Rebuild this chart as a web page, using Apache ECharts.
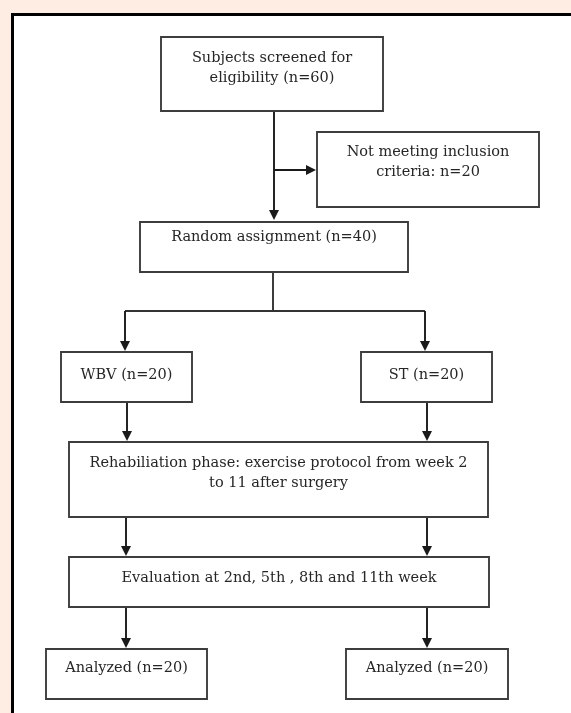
<!DOCTYPE html>
<html>
<head>
<meta charset="utf-8">
<script src="https://cdn.jsdelivr.net/npm/echarts@6/dist/echarts.min.js"></script>
<style>
  html, body { margin: 0; padding: 0; background: #fdede3; }
  #chart { width: 571px; height: 713px; }
</style>
</head>
<body>
<div id="chart"></div>
<script>
// ---- content (text of each box) ----
const boxLabels = [
  'Subjects screened for\neligibility (n=60)',
  'Not meeting inclusion\ncriteria: n=20',
  'Random assignment (n=40)',
  'WBV (n=20)',
  'ST (n=20)',
  'Rehabiliation phase: exercise protocol from week 2\nto 11 after surgery',
  'Evaluation at 2nd, 5th , 8th and 11th week',
  'Analyzed (n=20)',
  'Analyzed (n=20)'
];

// ---- layout (kept separate from content): [left, top, width, height] ----
const boxLayout = [
  [161, 37, 222, 74],
  [317, 132, 222, 75],
  [140, 222, 268, 50],
  [61, 352, 131, 50],
  [361, 352, 131, 50],
  [69, 442, 419, 75],
  [69, 557, 420, 50],
  [46, 649, 161, 50],
  [346, 649, 162, 50]
];
const textTopPad = [11, 10, 5, 13, 13, 11, 11, 9, 9];

// connectors: plain segments and arrow segments (tip points), in layout units
const plainSegments = [
  [[273, 272], [273, 311]],
  [[125, 311], [425, 311]]
];
const ARROW = 10;
const arrowSegments = [
  [[274, 111], [274, 220]],
  [[274, 170], [316, 170]],
  [[125, 311], [125, 351]],
  [[425, 311], [425, 351]],
  [[127, 402], [127, 441]],
  [[427, 402], [427, 441]],
  [[126, 517], [126, 556]],
  [[427, 517], [427, 556]],
  [[126, 607], [126, 648]],
  [[427, 607], [427, 648]]
];

function arrowData(seg) {
  const a = seg[0], b = seg[1];
  const dx = b[0] - a[0], dy = b[1] - a[1];
  const len = Math.sqrt(dx * dx + dy * dy);
  const k = (ARROW / 2) / len;
  return { coords: [a, [b[0] - dx * k, b[1] - dy * k]] };
}

const FONT_FAMILY = 'DejaVu Serif';
const FONT_SIZE = 14.5;

const chart = echarts.init(document.getElementById('chart'), null, { renderer: 'canvas' });
chart.setOption({
  backgroundColor: '#fdede3',
  animation: false,
  grid: { left: 0, right: 0, top: 0, bottom: 0 },
  xAxis: { type: 'value', min: 0, max: 571, show: false },
  yAxis: { type: 'value', min: 0, max: 713, inverse: true, show: false },
  graphic: [{
    type: 'rect',
    z: 0,
    silent: true,
    shape: { x: 12.5, y: 14.5, width: 700, height: 800 },
    style: { fill: '#ffffff', stroke: '#000000', lineWidth: 3 }
  }],
  series: [
    {
      type: 'lines',
      coordinateSystem: 'cartesian2d',
      z: 3,
      silent: true,
      symbol: ['none', 'none'],
      lineStyle: { color: '#333333', width: 1.9, opacity: 1, curveness: 0 },
      data: plainSegments.map(s => ({ coords: s }))
    },
    {
      type: 'lines',
      coordinateSystem: 'cartesian2d',
      z: 3,
      silent: true,
      symbol: ['none', 'triangle'],
      symbolSize: [9, ARROW],
      lineStyle: { color: '#1a1a1a', width: 1.9, opacity: 1, curveness: 0 },
      data: arrowSegments.map(arrowData)
    },
    {
      type: 'custom',
      coordinateSystem: 'cartesian2d',
      z: 4,
      silent: true,
      data: boxLabels.map((t, i) => [i]),
      renderItem: function (params, api) {
        const i = params.dataIndex;
        const b = boxLayout[i];
        const p0 = api.coord([b[0], b[1]]);
        const p1 = api.coord([b[0] + b[2], b[1] + b[3]]);
        const cx = (p0[0] + p1[0]) / 2;
        return {
          type: 'group',
          children: [
            {
              type: 'rect',
              shape: { x: p0[0], y: p0[1], width: p1[0] - p0[0], height: p1[1] - p0[1] },
              style: { fill: '#ffffff', stroke: '#3d3d3d', lineWidth: 1.9 }
            },
            {
              type: 'text',
              style: {
                text: boxLabels[i],
                x: cx,
                y: p0[1] + textTopPad[i],
                align: 'center',
                verticalAlign: 'top',
                fontFamily: FONT_FAMILY,
                fontSize: FONT_SIZE,
                lineHeight: 20,
                fill: '#262626'
              }
            }
          ]
        };
      }
    }
  ]
});
</script>
</body>
</html>
